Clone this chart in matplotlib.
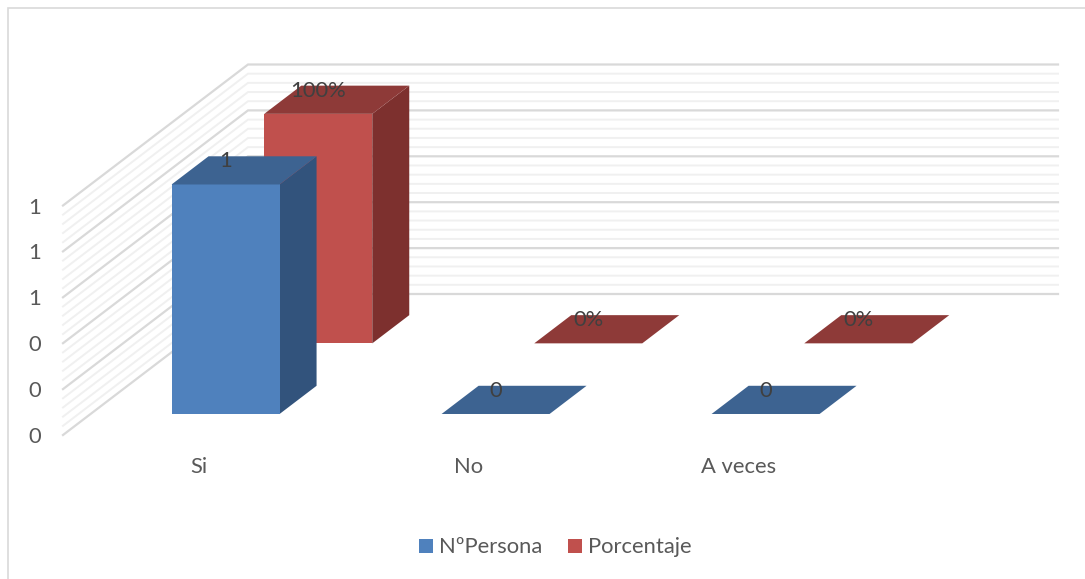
import matplotlib
matplotlib.use("Agg")
import matplotlib.pyplot as plt
from matplotlib.patches import Polygon, Rectangle

categories = ["Si", "No", "A veces"]
personas = [1, 0, 0]
porcentaje = [1.0, 0.0, 0.0]
persona_labels = ["1", "0", "0"]
porcentaje_labels = ["100%", "0%", "0%"]
axis_ticks = [0.0, 0.2, 0.4, 0.6, 0.8, 1.0]
axis_labels = ["0", "0", "0", "1", "1", "1"]
series_names = ["NºPersona", "Porcentaje"]

# oblique projection of the 3-D column chart, in figure pixels
FLOOR_LEFT, FLOOR_Y = 63.0, 435.0
FLOOR_WIDTH = 810.0
VALUE_PX = 229.5
DEPTH_DX, DEPTH_DY = 185.0, 141.0
BAR_WIDTH = 108.0 / 270.0   # share of one category slot
BAR_DEPTH = 0.2
SERIES_DEPTH = (0.149, 0.650)

BLUE = ("#4F81BD", "#3D6391", "#32537C")
RED = ("#C0504D", "#8E3A38", "#7D302E")
GRID_MAJOR = "#D9D9D9"
GRID_MINOR = "#F0F0F0"
TEXT = "#595959"
LABEL = "#404040"
FONT_SIZE = 15.8

plt.rcParams["font.family"] = ["Lato", "DejaVu Sans"]


def project(x, value, depth):
    return (FLOOR_LEFT + x * FLOOR_WIDTH / 3 + depth * DEPTH_DX,
            FLOOR_Y - value * VALUE_PX - depth * DEPTH_DY)


fig = plt.figure(figsize=(10.85, 5.79), dpi=100, facecolor="white")
ax = fig.add_axes([0, 0, 1, 1])
ax.set_xlim(0, 1085)
ax.set_ylim(579, 0)
ax.axis("off")

# chart frame: only the left and top edges fall inside the figure
ax.plot([8, 8, 1085], [579, 7.5, 7.5], color="#D9D9D9", lw=1.2, zorder=0,
        solid_joinstyle="miter")

# gridlines on the side wall and the back wall
for major in range(len(axis_ticks) - 1):
    for minor in range(5):
        v = axis_ticks[major] + minor * 0.04
        a = project(0, v, 0)
        b = project(0, v, 1)
        c = project(3, v, 1)
        is_major = minor == 0
        ax.plot([a[0], b[0], c[0]], [a[1], b[1], c[1]],
                color=GRID_MAJOR if is_major else GRID_MINOR,
                lw=1.6 if is_major else 1.4, zorder=1, solid_joinstyle="miter")
a, b, c = project(0, 1, 0), project(0, 1, 1), project(3, 1, 1)
ax.plot([a[0], b[0], c[0]], [a[1], b[1], c[1]], color=GRID_MAJOR, lw=1.6, zorder=1,
        solid_joinstyle="miter")

for v, text in zip(axis_ticks, axis_labels):
    x, y = project(0, v, 0)
    ax.text(35, y + 2, text, ha="center", va="center", fontsize=FONT_SIZE, color=TEXT, zorder=6)


def draw_column(slot, value, depth, colors, z):
    x0 = slot + 0.5 - BAR_WIDTH / 2
    x1 = slot + 0.5 + BAR_WIDTH / 2
    d0, d1 = depth, depth + BAR_DEPTH
    front = [project(x0, 0, d0), project(x1, 0, d0), project(x1, value, d0), project(x0, value, d0)]
    top = [project(x0, value, d0), project(x1, value, d0), project(x1, value, d1), project(x0, value, d1)]
    side = [project(x1, 0, d0), project(x1, 0, d1), project(x1, value, d1), project(x1, value, d0)]
    if value > 0:
        ax.add_patch(Polygon(side, closed=True, fc=colors[2], ec="none", zorder=z))
        ax.add_patch(Polygon(front, closed=True, fc=colors[0], ec="none", zorder=z))
    ax.add_patch(Polygon(top, closed=True, fc=colors[1], ec="none", zorder=z))


for slot in range(len(categories)):
    draw_column(slot, porcentaje[slot], SERIES_DEPTH[1], RED, 2)
    draw_column(slot, personas[slot], SERIES_DEPTH[0], BLUE, 3)
    for value, depth, text in ((porcentaje[slot], SERIES_DEPTH[1], porcentaje_labels[slot]),
                               (personas[slot], SERIES_DEPTH[0], persona_labels[slot])):
        x, y = project(slot + 0.5, value, depth + BAR_DEPTH / 2)
        ax.text(x - 18.5, y - 9, text, ha="center", va="center",
                fontsize=FONT_SIZE, color=LABEL, zorder=5)

# category labels
for x, text in zip([198.5, 468.5, 738.5], categories):
    ax.text(x, 467, text, ha="center", va="center", fontsize=FONT_SIZE, color=TEXT)

# legend
for x, color, name in ((419, BLUE[0], series_names[0]), (568, RED[0], series_names[1])):
    ax.add_patch(Rectangle((x, 539), 14, 14, fc=color, ec="none"))
    ax.text(x + 20, 547, name, ha="left", va="center", fontsize=FONT_SIZE, color=TEXT)

fig.savefig("out.png", dpi=100)
